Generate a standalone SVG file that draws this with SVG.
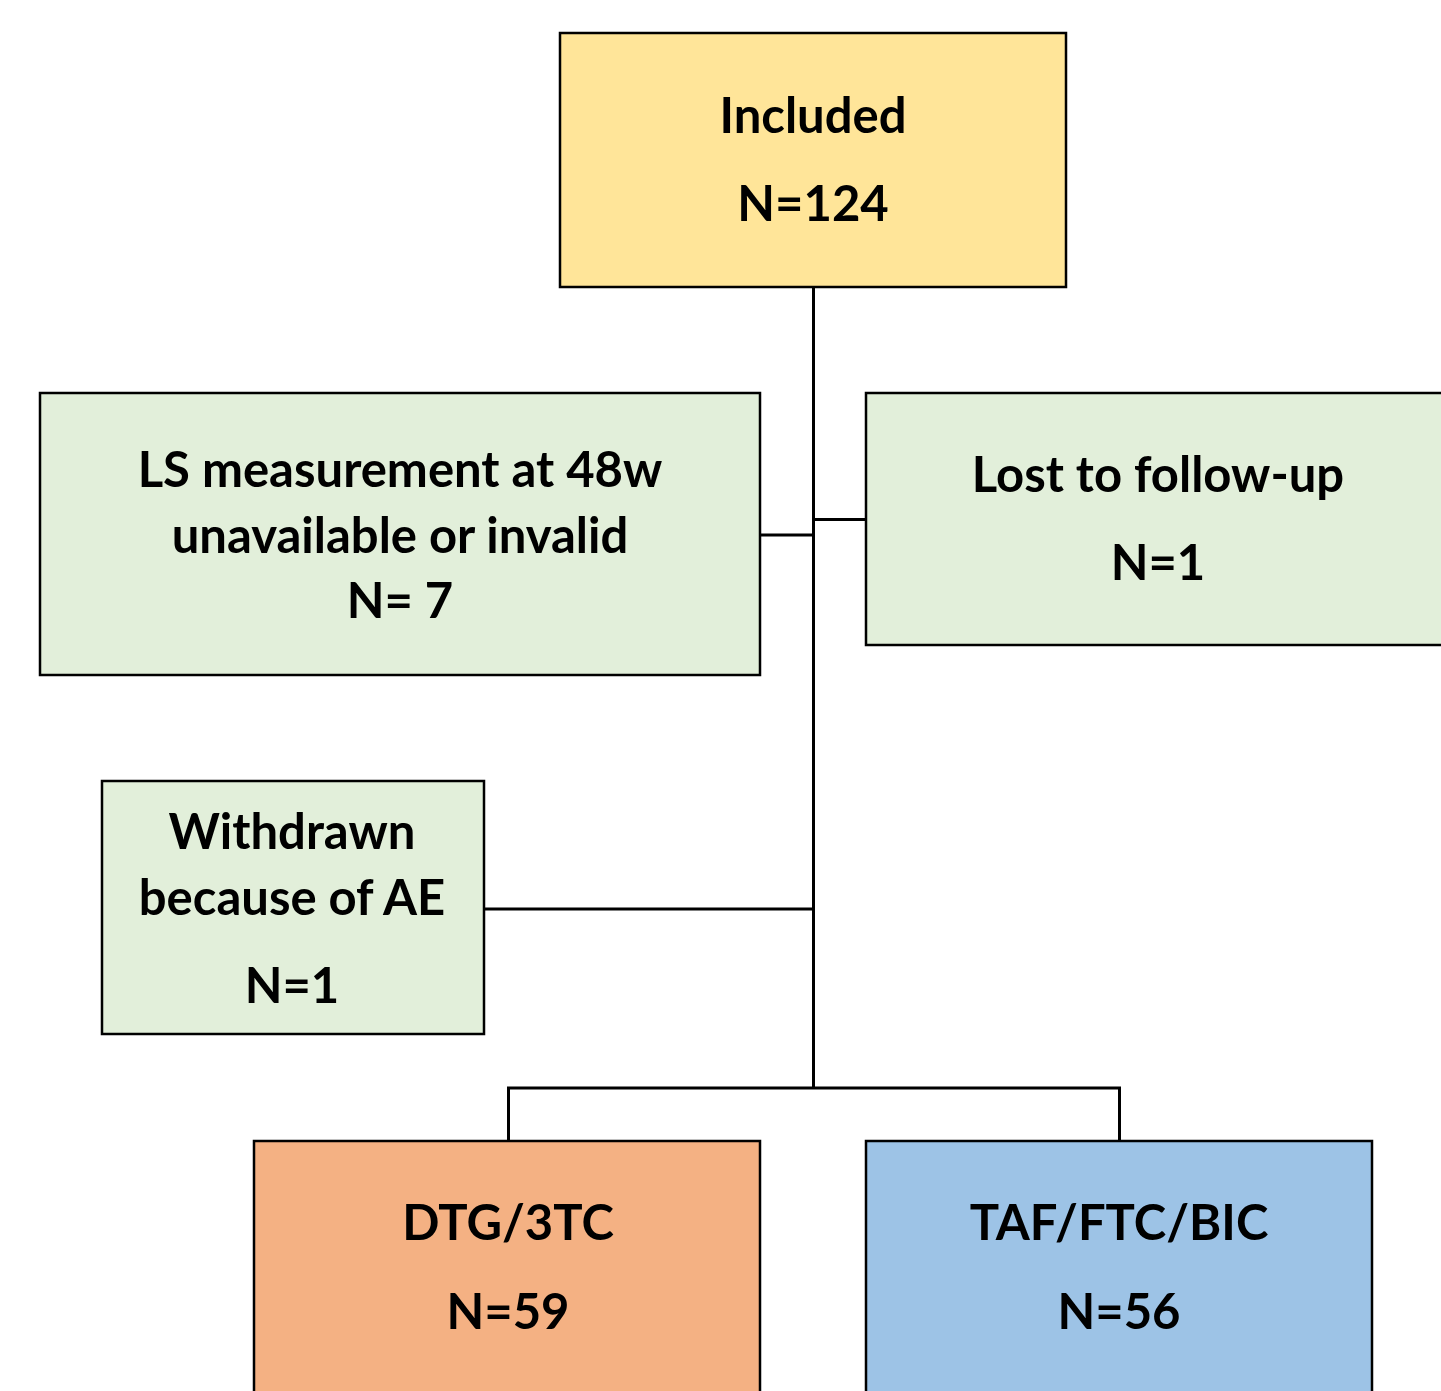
<svg xmlns="http://www.w3.org/2000/svg" width="1441" height="1391" viewBox="0 0 1441 1391">
<style>
.box{stroke:#000;stroke-width:2.5}
.t{font-family:Lato,"Open Sans","Liberation Sans",sans-serif;font-weight:bold;font-size:49px;fill:#000;text-anchor:middle}
.c{fill:none;stroke:#000;stroke-width:3}
</style>
<rect width="1441" height="1391" fill="#fff"/>
<g id="connectors">
<path class="c" d="M813.5,287 V1088"/>
<path class="c" d="M760,535 H813.5"/>
<path class="c" d="M813.5,519.5 H866"/>
<path class="c" d="M484,909 H813.5"/>
<path class="c" d="M508.5,1141 V1088 H1119.5 V1141"/>
</g>
<g id="included">
<rect class="box" x="560" y="33" width="506" height="254" fill="#FFE599"/>
<text class="t" x="813" y="133">Included</text>
<text class="t" x="813" y="221">N=124</text>
</g>
<g id="ls">
<rect class="box" x="40" y="393" width="720" height="282" fill="#E2EFDA"/>
<text class="t" x="400" y="487">LS measurement at 48w</text>
<text class="t" x="400" y="553">unavailable or invalid</text>
<text class="t" x="400" y="618">N= 7</text>
</g>
<g id="lost">
<rect class="box" x="866" y="393" width="600" height="252" fill="#E2EFDA"/>
<text class="t" x="1158" y="492">Lost to follow-up</text>
<text class="t" x="1158" y="580">N=1</text>
</g>
<g id="withdrawn">
<rect class="box" x="102" y="781" width="382" height="253" fill="#E2EFDA"/>
<text class="t" x="292" y="849">Withdrawn</text>
<text class="t" x="292" y="915">because of AE</text>
<text class="t" x="292" y="1003">N=1</text>
</g>
<g id="dtg">
<rect class="box" x="254" y="1141" width="506" height="300" fill="#F4B183"/>
<text class="t" x="508" y="1240">DTG/3TC</text>
<text class="t" x="508" y="1329">N=59</text>
</g>
<g id="taf">
<rect class="box" x="866" y="1141" width="506" height="300" fill="#9DC3E6"/>
<text class="t" x="1119" y="1240">TAF/FTC/BIC</text>
<text class="t" x="1119" y="1329">N=56</text>
</g>
</svg>
